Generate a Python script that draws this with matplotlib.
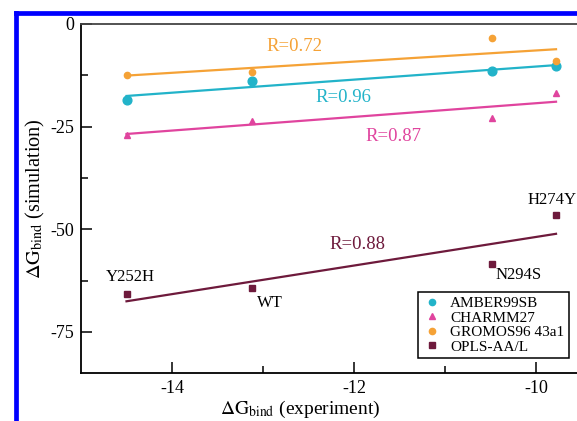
import numpy as np
import matplotlib
matplotlib.use("Agg")
import matplotlib.pyplot as plt
from matplotlib.lines import Line2D

plt.rcParams['font.family'] = ['Liberation Serif', 'DejaVu Serif']
plt.rcParams['mathtext.fontset'] = 'stix'

#############################################################################
# Data #
dg_exp = [-14.5, -13.12, -10.48, -9.78]
mutants = ["Y252H", "WT", "N294S", "H274Y"]

amber = [-18.5, -13.9, -11.4, -10.2]
charmm = [-27.0, -23.6, -22.9, -16.8]
gromos = [-12.4, -11.7, -3.4, -9.0]
opls = [-65.7, -64.3, -58.4, -46.5]

r_labels = ["R=0.96", "R=0.87", "R=0.72", "R=0.88"]
series_names = ["AMBER99SB", "CHARMM27", "GROMOS96 43a1", "OPLS-AA/L"]

#############################################################################
# Styles #
colors = ["#22b3c9", "#e0449e", "#f5a236", "#6e1a3c"]
markers = ["o", "^", "o", "s"]
msizes = [6.3, 5.0, 4.5, 4.5]
r_pos = [(-12.12, -17.8), (-11.57, -27.3), (-12.65, -5.6), (-11.96, -53.8)]
mut_pos = [(-14.46, -61.6), (-12.92, -67.9), (-10.19, -61.1), (-9.82, -42.9)]

#############################################################################
# Plotting #
fig = plt.figure(figsize=(5.77, 4.21), dpi=100)
ax = fig.add_axes([81 / 577, 48 / 421, 500.5 / 577, 349 / 421])

x = np.array(dg_exp)
handles = []
for ys, c, m, ms, name, rl, rp in zip([amber, charmm, gromos, opls], colors, markers,
                                      msizes, series_names, r_labels, r_pos):
    ys = np.array(ys)
    k, b = np.polyfit(x, ys, 1)
    ax.plot([x[0], x[-1]], [k * x[0] + b, k * x[-1] + b], color=c, lw=1.6, zorder=2)
    ax.plot(x, ys, linestyle='none', marker=m, color=c, ms=ms, zorder=3)
    ax.text(rp[0], rp[1], rl, color=c, fontsize=13.5, ha='center', va='center')
    handles.append(Line2D([], [], linestyle='none', marker=m, color=c, ms=4.5, label=name))

for name, p in zip(mutants, mut_pos):
    ax.text(p[0], p[1], name, fontsize=12, ha='center', va='center', color='black')

ax.set_xlim(-15, -9.5)
ax.set_ylim(-85, 0)
ax.set_xticks([-14, -12, -10])
ax.set_xticks([-13, -11], minor=True)
ax.set_yticks([0, -25, -50, -75])
ax.set_yticks([-12.5, -37.5, -62.5], minor=True)
ax.set_xticklabels(["-14", "-12", "-10"])
ax.set_yticklabels(["0", "-25", "-50", "-75"])
ax.tick_params(which='both', direction='in', labelsize=13, width=1.1)
ax.tick_params(which='major', length=8, pad=5)
ax.tick_params(which='minor', length=5)
for s in ax.spines.values():
    s.set_linewidth(1.3)
ax.spines['top'].set_color('#444444')

ax.set_xlabel(r"$\Delta\mathrm{G}_{\mathrm{bind}}$ (experiment)", fontsize=14)
ax.set_ylabel(r"$\Delta\mathrm{G}_{\mathrm{bind}}$ (simulation)", fontsize=14.6, labelpad=2)
# label sits left of the axes centre in the original
ax.xaxis.set_label_coords(0.4376, -0.073)

leg = ax.legend(handles=handles, loc='upper left', bbox_to_anchor=(0.673, 0.232),
                fontsize=11, frameon=True, fancybox=False, edgecolor='black',
                framealpha=1, labelspacing=0.05, handletextpad=0.6, handlelength=1.2,
                borderpad=0.3, borderaxespad=0)
leg.get_frame().set_linewidth(1.1)

# blue frame round the figure (cut off at right and bottom)
fx = 15.5 / 577
fy = 1 - 12.5 / 421
fig.add_artist(Line2D([fx, fx], [-0.1, fy], transform=fig.transFigure, color='#0000ff', lw=3.4))
fig.add_artist(Line2D([fx, 1.1], [fy, fy], transform=fig.transFigure, color='#0000ff', lw=3.4))

fig.savefig("out.png", dpi=100)
